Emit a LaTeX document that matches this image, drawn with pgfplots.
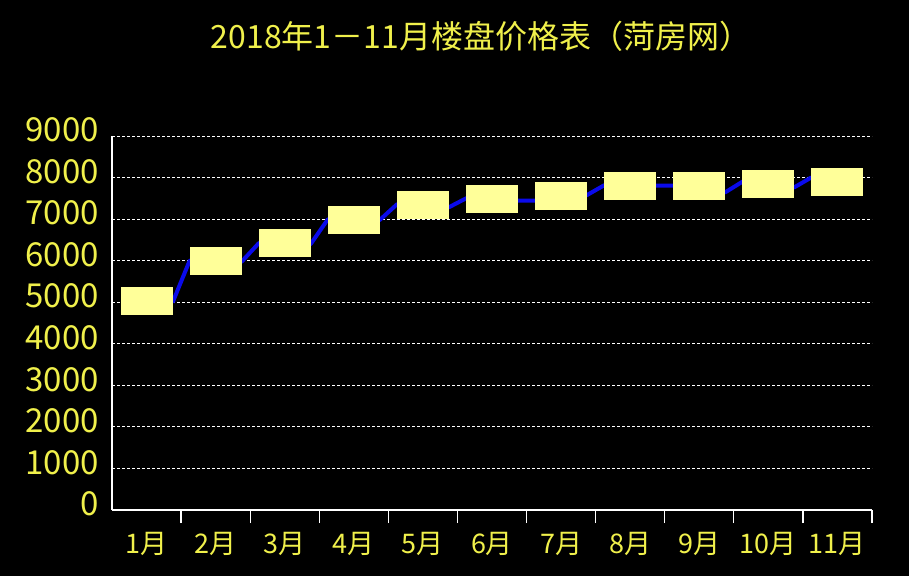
\documentclass[border=0pt]{standalone}
\usepackage{fontspec}
\setmainfont{Noto Sans CJK SC}
\usepackage{pgfplots}
\pgfplotsset{compat=1.18}
\definecolor{txt}{RGB}{240,240,75}
\definecolor{boxc}{RGB}{255,255,153}
\definecolor{linec}{RGB}{10,10,235}
% yellow label box drawn at each month
\pgfdeclareplotmark{pricebox}{%
  \pgfpathrectangle{\pgfpoint{-26pt}{-14pt}}{\pgfpoint{52pt}{28pt}}%
  \pgfusepathqfill}
\begin{document}
\begin{tikzpicture}
\useasboundingbox (0,0) rectangle (909pt,576pt);
\fill[black] (0,0) rectangle (909pt,576pt);
\node[text=txt, font=\fontsize{32}{35}\selectfont] at (481pt,540pt)
  {2018年1－11月楼盘价格表（菏房网）};
\begin{axis}[
  at={(112pt,66pt)}, anchor=south west,
  scale only axis, width=760pt, height=374pt,
  xmin=0.5, xmax=11.5, ymin=0, ymax=9000,
  axis x line*=bottom, axis y line*=left,
  axis line style={white, line width=1.5pt, -},
  xtick={1,...,11},
  xticklabels={1月,2月,3月,4月,5月,6月,7月,8月,9月,10月,11月},
  minor xtick={1.5,2.5,...,11.5},
  ytick={0,1000,...,9000},
  major tick length=0pt,
  minor tick length=13pt,
  tick align=outside,
  minor tick style={white, line width=1.2pt},
  ymajorgrids,
  major grid style={white, line width=0.8pt, dash pattern=on 3pt off 2pt},
  xticklabel style={text=txt, font=\fontsize{27}{30}\selectfont,
    anchor=center, yshift=-34pt, inner sep=0pt},
  yticklabel style={text=txt, font=\fontsize{33}{36}\selectfont,
    anchor=east, inner sep=0pt, xshift=-13pt, yshift=6pt},
  /pgf/number format/1000 sep={},
  /pgf/number format/assume math mode=true,
]
% line runs from box edge to box edge
\addplot[linec, line width=4pt, line join=round] coordinates {
  (1.376,4990) (1.624,6000) (2.376,5975) (2.624,6420)
  (3.376,6400) (3.624,6995) (4.376,6980) (4.624,7355)
  (5.376,7285) (5.624,7500) (6.376,7445) (6.624,7445)
  (7.376,7580) (7.624,7815) (8.376,7805) (8.624,7805)
  (9.376,7645) (9.624,7900) (10.376,7765) (10.624,8005)
};
\addplot[only marks, mark=pricebox, color=boxc] coordinates {
  (1,5030) (2,5990) (3,6420) (4,6970) (5,7350) (6,7490)
  (7,7560) (8,7800) (9,7800) (10,7850) (11,7900)
};
\end{axis}
\end{tikzpicture}
\end{document}
